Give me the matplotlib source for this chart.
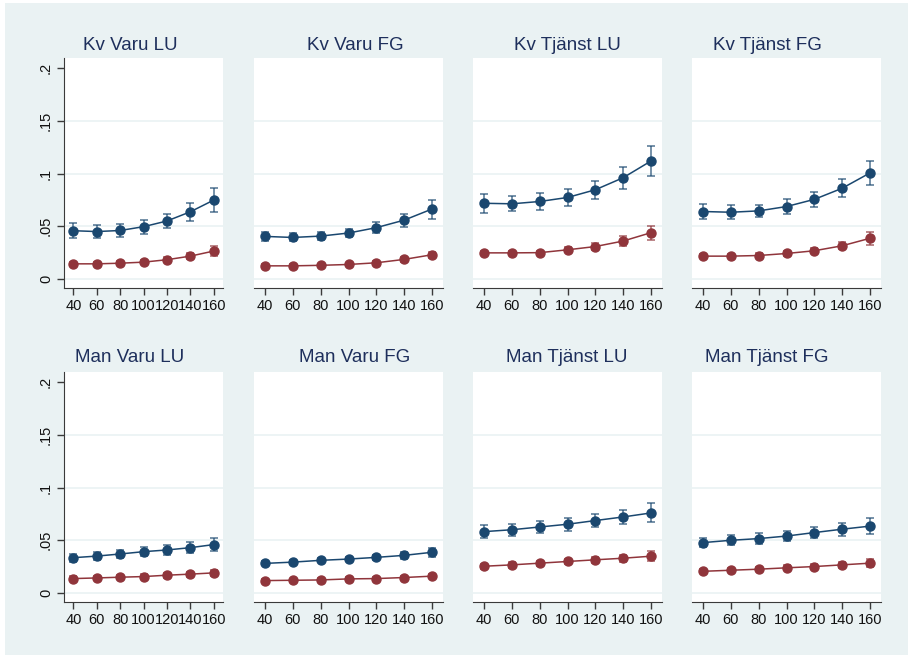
import numpy as np
import matplotlib.pyplot as plt
from matplotlib.patches import Rectangle

plt.rcParams['font.family'] = ['Liberation Sans', 'DejaVu Sans']

x_vals = [40, 60, 80, 100, 120, 140, 160]
y_ticks = [0, 0.05, 0.1, 0.15, 0.2]
y_tick_labels = ['0', '.05', '.1', '.15', '.2']

titles = ['Kv Varu LU', 'Kv Varu FG', 'Kv Tjänst LU', 'Kv Tjänst FG',
          'Man Varu LU', 'Man Varu FG', 'Man Tjänst LU', 'Man Tjänst FG']

# blue series: point estimate and CI half-width
kv_varu_lu_blue = [0.0458, 0.0450, 0.0460, 0.0496, 0.0550, 0.0637, 0.0748]
kv_varu_lu_blue_ci = [0.0070, 0.0062, 0.0062, 0.0065, 0.0070, 0.0085, 0.0112]
kv_varu_lu_red = [0.0144, 0.0144, 0.0150, 0.0160, 0.0183, 0.0217, 0.0265]
kv_varu_lu_red_ci = [0.0020, 0.0020, 0.0020, 0.0022, 0.0025, 0.0030, 0.0048]

kv_varu_fg_blue = [0.0404, 0.0394, 0.0407, 0.0436, 0.0487, 0.0558, 0.0663]
kv_varu_fg_blue_ci = [0.0040, 0.0038, 0.0038, 0.0042, 0.0050, 0.0062, 0.0090]
kv_varu_fg_red = [0.0125, 0.0125, 0.0130, 0.0138, 0.0154, 0.0186, 0.0230]
kv_varu_fg_red_ci = [0.0015, 0.0015, 0.0015, 0.0016, 0.0018, 0.0022, 0.0030]

kv_tjanst_lu_blue = [0.0718, 0.0713, 0.0735, 0.0773, 0.0846, 0.0960, 0.1118]
kv_tjanst_lu_blue_ci = [0.0090, 0.0072, 0.0076, 0.0080, 0.0085, 0.0103, 0.0140]
kv_tjanst_lu_red = [0.0248, 0.0248, 0.0250, 0.0277, 0.0308, 0.0360, 0.0439]
kv_tjanst_lu_red_ci = [0.0020, 0.0020, 0.0020, 0.0024, 0.0030, 0.0048, 0.0068]

kv_tjanst_fg_blue = [0.0640, 0.0633, 0.0646, 0.0687, 0.0755, 0.0860, 0.1005]
kv_tjanst_fg_blue_ci = [0.0070, 0.0065, 0.0060, 0.0067, 0.0070, 0.0087, 0.0118]
kv_tjanst_fg_red = [0.0217, 0.0217, 0.0223, 0.0242, 0.0268, 0.0315, 0.0386]
kv_tjanst_fg_red_ci = [0.0020, 0.0020, 0.0020, 0.0022, 0.0025, 0.0035, 0.0060]

man_varu_lu_blue = [0.0335, 0.0350, 0.0370, 0.0392, 0.0408, 0.0430, 0.0459]
man_varu_lu_blue_ci = [0.0038, 0.0040, 0.0042, 0.0043, 0.0045, 0.0050, 0.0065]
man_varu_lu_red = [0.0137, 0.0143, 0.0150, 0.0156, 0.0169, 0.0179, 0.0191]
man_varu_lu_red_ci = [0.0020, 0.0020, 0.0020, 0.0020, 0.0022, 0.0024, 0.0028]

man_varu_fg_blue = [0.0281, 0.0293, 0.0310, 0.0322, 0.0338, 0.0357, 0.0386]
man_varu_fg_blue_ci = [0.0020, 0.0020, 0.0020, 0.0022, 0.0024, 0.0030, 0.0045]
man_varu_fg_red = [0.0118, 0.0121, 0.0124, 0.0134, 0.0137, 0.0147, 0.0160]
man_varu_fg_red_ci = [0.0015, 0.0015, 0.0015, 0.0015, 0.0015, 0.0016, 0.0018]

man_tjanst_lu_blue = [0.0582, 0.0600, 0.0626, 0.0652, 0.0687, 0.0721, 0.0759]
man_tjanst_lu_blue_ci = [0.0062, 0.0058, 0.0058, 0.0060, 0.0062, 0.0070, 0.0090]
man_tjanst_lu_red = [0.0254, 0.0267, 0.0283, 0.0299, 0.0315, 0.0330, 0.0349]
man_tjanst_lu_red_ci = [0.0025, 0.0025, 0.0025, 0.0026, 0.0028, 0.0035, 0.0047]

man_tjanst_fg_blue = [0.0478, 0.0500, 0.0516, 0.0540, 0.0573, 0.0605, 0.0634]
man_tjanst_fg_blue_ci = [0.0045, 0.0048, 0.0050, 0.0050, 0.0052, 0.0060, 0.0073]
man_tjanst_fg_red = [0.0206, 0.0216, 0.0226, 0.0239, 0.0251, 0.0267, 0.0283]
man_tjanst_fg_red_ci = [0.0020, 0.0020, 0.0020, 0.0022, 0.0024, 0.0028, 0.0035]

blue_series = [kv_varu_lu_blue, kv_varu_fg_blue, kv_tjanst_lu_blue, kv_tjanst_fg_blue,
               man_varu_lu_blue, man_varu_fg_blue, man_tjanst_lu_blue, man_tjanst_fg_blue]
blue_ci = [kv_varu_lu_blue_ci, kv_varu_fg_blue_ci, kv_tjanst_lu_blue_ci, kv_tjanst_fg_blue_ci,
           man_varu_lu_blue_ci, man_varu_fg_blue_ci, man_tjanst_lu_blue_ci, man_tjanst_fg_blue_ci]
red_series = [kv_varu_lu_red, kv_varu_fg_red, kv_tjanst_lu_red, kv_tjanst_fg_red,
              man_varu_lu_red, man_varu_fg_red, man_tjanst_lu_red, man_tjanst_fg_red]
red_ci = [kv_varu_lu_red_ci, kv_varu_fg_red_ci, kv_tjanst_lu_red_ci, kv_tjanst_fg_red_ci,
          man_varu_lu_red_ci, man_varu_fg_red_ci, man_tjanst_lu_red_ci, man_tjanst_fg_red_ci]

BLUE = '#1a476f'
RED = '#90353b'
BG = '#eaf2f3'
AXIS = '#3a3a3a'

W, H = 911, 658
fig = plt.figure(figsize=(W / 100, H / 100), dpi=100, facecolor='white')
fig.patches.append(Rectangle((5 / W, 3 / H), 903 / W, 652 / H, transform=fig.transFigure,
                             facecolor=BG, edgecolor='none', zorder=-10))

# plot area pixel boxes (left, right) and (top, bottom)
col_px = [(64, 223), (254, 443), (473, 662), (692, 881)]
row_px = [(58, 288), (372, 602)]
title_x = [130, 355, 567, 767]
title_y = [45, 358]

for i in range(8):
    r, c = divmod(i, 4)
    l, rr = col_px[c]
    t, b = row_px[r]
    ax = fig.add_axes([l / W, (H - b) / H, (rr - l) / W, (b - t) / H])
    ax.set_facecolor('white')
    ax.set_xlim(32, 168)
    ax.set_ylim(-0.0085, 0.2095)

    for yt in y_ticks[:-1]:
        ax.axhline(yt, color=BG, lw=1.2, zorder=0)

    ax.errorbar(x_vals, blue_series[i], yerr=blue_ci[i], fmt='none', ecolor=BLUE,
                alpha=0.65, elinewidth=1.3, capsize=3, capthick=1.3, zorder=2)
    ax.plot(x_vals, blue_series[i], color=BLUE, lw=1.1, marker='o', ms=6.5, zorder=3)
    ax.errorbar(x_vals, red_series[i], yerr=red_ci[i], fmt='none', ecolor=RED,
                alpha=0.65, elinewidth=1.3, capsize=3, capthick=1.3, zorder=2)
    ax.plot(x_vals, red_series[i], color=RED, lw=1.1, marker='o', ms=6.5, zorder=3)

    for s in ['top', 'right']:
        ax.spines[s].set_visible(False)
    ax.spines['bottom'].set_color(AXIS)
    ax.spines['left'].set_color(AXIS)
    ax.set_xticks(x_vals)
    ax.tick_params(axis='x', colors=AXIS, length=5, width=1, labelsize=10.5,
                   labelcolor='#111111', pad=3)
    if c == 0:
        ax.set_yticks(y_ticks)
        ax.set_yticklabels(y_tick_labels, rotation=90, va='center')
        ax.tick_params(axis='y', colors=AXIS, length=5, width=1, labelsize=10.5,
                       labelcolor='#111111', pad=3)
    else:
        ax.spines['left'].set_visible(False)
        ax.set_yticks([])

    fig.text(title_x[c] / W, 1 - title_y[r] / H, titles[i], ha='center', va='center',
             fontsize=13.5, color='#1e2f5c')

fig.savefig('out.png', dpi=100, facecolor='white')
